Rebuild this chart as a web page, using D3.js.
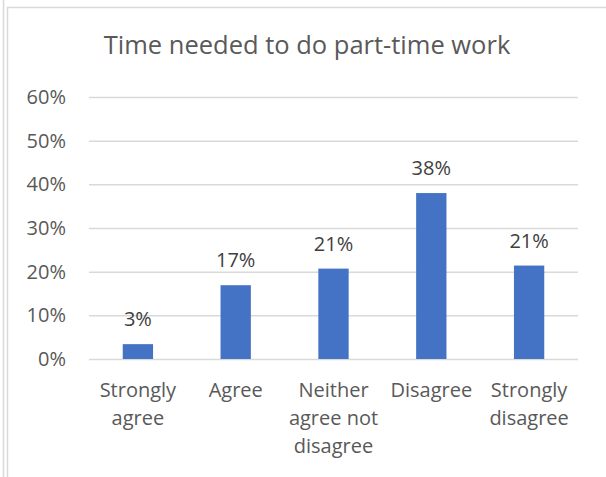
<!DOCTYPE html>
<html>
<head>
<meta charset="utf-8">
<script src="https://cdn.jsdelivr.net/npm/d3@7"></script>
<style>
  html, body { margin: 0; padding: 0; background: #fff; }
  svg { display: block; font-family: "Open Sans", "Noto Sans", sans-serif; }
</style>
</head>
<body>
<svg id="chart" width="606" height="477"></svg>
<script>
// Survey responses: share of respondents per answer
const categories = ["Strongly agree", "Agree", "Neither agree not disagree", "Disagree", "Strongly disagree"];
const values = [0.034, 0.169, 0.207, 0.380, 0.214];
const yTicks = [0, 0.1, 0.2, 0.3, 0.4, 0.5, 0.6];
const title = "Time needed to do part-time work";

const W = 606, H = 477;
const margin = { left: 89, right: 28, top: 97, bottom: 118 };
const labelSize = 20;

const svg = d3.select("#chart");

// Frame lines along the left and top edges
svg.append("line").attr("x1", 3.5).attr("x2", 3.5).attr("y1", 0).attr("y2", H)
  .attr("stroke", "#d9d9d9").attr("stroke-width", 1.5);
svg.append("line").attr("x1", 7.5).attr("x2", 7.5).attr("y1", 7).attr("y2", H)
  .attr("stroke", "#d9d9d9").attr("stroke-width", 1.5);
svg.append("line").attr("x1", 7).attr("x2", W).attr("y1", 7.5).attr("y2", 7.5)
  .attr("stroke", "#d9d9d9").attr("stroke-width", 1.5);

const x = d3.scaleBand()
  .domain(categories)
  .range([margin.left, W - margin.right])
  .paddingInner(0.69)
  .paddingOuter(0.345);

const y = d3.scaleLinear()
  .domain([0, 0.6])
  .range([H - margin.bottom, margin.top]);

// Title
svg.append("text")
  .attr("x", 307).attr("y", 54)
  .attr("text-anchor", "middle")
  .attr("fill", "#595959")
  .attr("font-size", 25.5)
  .text(title);

// Y axis: gridlines and percent labels
const yAxis = d3.axisLeft(y)
  .tickValues(yTicks)
  .tickFormat(d3.format(".0%"))
  .tickSize(-(W - margin.left - margin.right))
  .tickPadding(23);

const gy = svg.append("g")
  .attr("transform", `translate(${margin.left},0)`)
  .call(yAxis);
gy.select(".domain").remove();
gy.selectAll(".tick line").attr("stroke", "#d9d9d9").attr("stroke-width", 1.5);
gy.selectAll(".tick text")
  .attr("fill", "#595959")
  .attr("font-size", labelSize)
  .attr("font-family", "'Open Sans', sans-serif");

// Bars
svg.append("g").selectAll("rect")
  .data(values)
  .join("rect")
  .attr("x", (d, i) => x(categories[i]))
  .attr("width", x.bandwidth())
  .attr("y", d => y(d))
  .attr("height", d => y(0) - y(d))
  .attr("fill", "#4472c4");

// Value labels above bars
svg.append("g").selectAll("text")
  .data(values)
  .join("text")
  .attr("x", (d, i) => x(categories[i]) + x.bandwidth() / 2)
  .attr("y", d => y(d) - 18)
  .attr("text-anchor", "middle")
  .attr("fill", "#404040")
  .attr("font-size", labelSize)
  .text(d => d3.format(".0%")(d));

// X axis category labels, wrapped to the band step
const gx = svg.append("g")
  .attr("transform", `translate(0,${y(0)})`)
  .call(d3.axisBottom(x).tickSize(0).tickPadding(0));
gx.select(".domain").remove();

const lineH = 28;
gx.selectAll(".tick text")
  .attr("fill", "#595959")
  .attr("font-size", labelSize)
  .attr("font-family", "'Open Sans', sans-serif")
  .attr("y", 0)
  .attr("dy", null)
  .each(function(d) {
    const t = d3.select(this);
    const words = d.split(" ");
    t.text(null);
    const maxW = x.step();
    let line = [];
    let lines = [];
    let tspan = t.append("tspan");
    words.forEach(w => {
      line.push(w);
      tspan.text(line.join(" "));
      if (tspan.node().getComputedTextLength() > maxW && line.length > 1) {
        line.pop();
        lines.push(line.join(" "));
        line = [w];
        tspan.text(w);
      }
    });
    lines.push(line.join(" "));
    t.text(null);
    lines.forEach((l, i) => {
      t.append("tspan").attr("x", 0).attr("y", 38 + i * lineH).text(l);
    });
  });
</script>
</body>
</html>
